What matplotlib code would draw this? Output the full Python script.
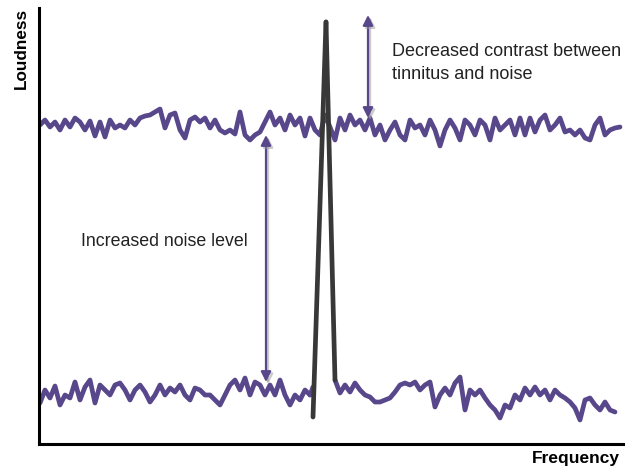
import numpy as np
import matplotlib
matplotlib.use('Agg')
import matplotlib.pyplot as plt
import matplotlib.patheffects as pe

plt.rcParams['font.family'] = ['Liberation Sans', 'DejaVu Sans']

# sketch values, loudness (arbitrary units)
upper_freq = np.arange(0, 581, 5)
upper_noise = [319, 324, 317, 322, 314, 324, 317, 326, 322, 314, 323, 308, 322, 307, 324, 316,
               319, 316, 324, 319, 326, 328, 329, 332, 335, 316, 329, 331, 314, 306, 324, 327,
               322, 326, 316, 324, 314, 311, 314, 310, 332, 309, 304, 309, 312, 322, 332, 319,
               326, 314, 329, 319, 326, 308, 326, 314, 309, 329, 317, 304, 326, 314, 329, 319,
               324, 314, 326, 309, 319, 304, 314, 322, 309, 304, 324, 316, 319, 309, 324, 314,
               298, 314, 324, 316, 304, 324, 319, 309, 324, 319, 304, 326, 314, 319, 324, 309,
               326, 309, 326, 312, 324, 329, 314, 319, 326, 312, 314, 309, 314, 306, 304, 319,
               326, 309, 314, 316, 317]

lower_left_freq = np.arange(0, 271, 5)
lower_left = [41, 54, 46, 58, 39, 49, 46, 62, 44, 57, 64, 41, 59, 54, 49, 59, 61, 54, 44, 54,
              59, 52, 42, 49, 59, 49, 56, 52, 59, 49, 44, 56, 54, 49, 49, 44, 39, 49, 59, 64,
              54, 66, 49, 62, 59, 49, 59, 49, 64, 49, 39, 49, 44, 54, 49]

lower_right_freq = np.arange(295, 576, 5)
lower_right = [64, 51, 59, 52, 61, 54, 49, 47, 42, 42, 44, 46, 52, 59, 61, 59, 62, 54, 59, 62,
               37, 49, 56, 49, 61, 67, 34, 54, 49, 54, 46, 39, 34, 26, 39, 36, 49, 44, 56, 49,
               57, 49, 54, 44, 54, 49, 46, 42, 36, 24, 44, 46, 39, 34, 42, 34, 32]

# tinnitus tone: left foot, peak, right foot
tone_freq = [273, 286, 295]
tone_loud = [27, 422, 64]

purple = '#58478a'
shadow = [pe.SimpleLineShadow(offset=(1.5, -1.5), shadow_color='#999999', alpha=0.5), pe.Normal()]
line_kw = dict(color=purple, lw=3.4, solid_joinstyle='round', solid_capstyle='round')

fig = plt.figure(figsize=(6.35, 4.70), dpi=100)
ax = fig.add_axes([39 / 635, 26 / 470, 584 / 635, 436 / 470])

ax.plot(upper_freq, upper_noise, **line_kw)
ax.plot(lower_left_freq, lower_left, **line_kw)
ax.plot(lower_right_freq, lower_right, **line_kw)
ax.plot([lower_left_freq[-1], tone_freq[0]], [lower_left[-1], tone_loud[0] + 30], **line_kw)

# spike drawn as two strokes meeting at the top
ax.plot(tone_freq[:2], tone_loud[:2], color='#383838', lw=3.4, solid_capstyle='round', zorder=3)
ax.plot(tone_freq[1:], tone_loud[1:], color='#383838', lw=3.4, solid_capstyle='round', zorder=3)

arrow = dict(arrowstyle='<|-|>', color=purple, lw=1.6, mutation_scale=15, shrinkA=0, shrinkB=0,
             path_effects=shadow)
ax.annotate('', xy=(328, 429), xytext=(328, 326), arrowprops=arrow)
ax.annotate('', xy=(226, 309), xytext=(226, 62), arrowprops=arrow)

ax.text(352, 381, 'Decreased contrast between\ntinnitus and noise', fontsize=13,
        color='#222222', ha='left', va='center', linespacing=1.4)
ax.text(41, 202, 'Increased noise level', fontsize=12.8, color='#222222', ha='left', va='center')

ax.text(-0.03, 1.0, 'Loudness', rotation=90, transform=ax.transAxes, ha='center', va='top',
        fontsize=12.3, fontweight='bold')
ax.text(0.995, -0.043, 'Frequency', transform=ax.transAxes, ha='right', va='baseline',
        fontsize=12.5, fontweight='bold')

ax.set_xlim(-1, 583)
ax.set_ylim(0, 436)
ax.set_xticks([])
ax.set_yticks([])
for s in ['top', 'right']:
    ax.spines[s].set_visible(False)
for s in ['left', 'bottom']:
    ax.spines[s].set_linewidth(2.2)
    ax.spines[s].set_capstyle('projecting')

fig.savefig('out.png', dpi=100)
